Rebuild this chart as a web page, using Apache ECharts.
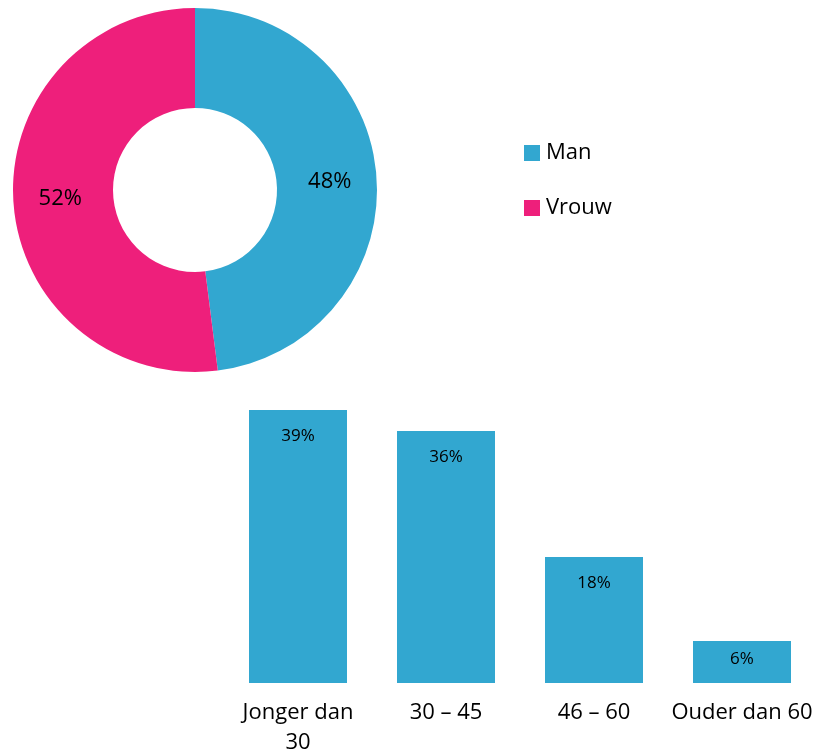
<!DOCTYPE html>
<html>
<head>
<meta charset="utf-8">
<script src="https://cdn.jsdelivr.net/npm/echarts@6/dist/echarts.min.js"></script>
<style>html,body{margin:0;padding:0;background:#fff}#c{width:819px;height:755px}</style>
</head>
<body>
<div id="c"></div>
<script>
var genderNames = ['Man', 'Vrouw'];
var genderValues = [48, 52];
var ageCategories = ['Jonger dan\n30', '30 – 45', '46 – 60', 'Ouder dan 60'];
var ageValues = [39, 36, 18, 6];

var BLUE = '#32A7D0', PINK = '#EE1F7B';
var FONT = 'Open Sans';
var chart = echarts.init(document.getElementById('c'));
chart.setOption({
  animation: false,
  textStyle: { fontFamily: FONT },
  legend: {
    orient: 'vertical', left: 519, top: 137,
    itemWidth: 16, itemHeight: 16, itemGap: 33,
    icon: 'rect',
    data: genderNames,
    textStyle: { fontSize: 22, color: '#000', fontFamily: FONT, padding: [0, 0, 0, 1] }
  },
  grid: { left: 224, right: 3, top: 410, bottom: 72, outerBoundsMode: 'none', containLabel: false },
  xAxis: {
    type: 'category', data: ageCategories,
    axisLine: { show: false }, axisTick: { show: false },
    axisLabel: { fontSize: 22, color: '#000', margin: 15, lineHeight: 30, fontFamily: FONT, interval: 0 }
  },
  yAxis: { type: 'value', min: 0, max: 39, show: false, splitLine: { show: false } },
  series: [
    {
      type: 'pie', center: [195, 190], radius: [82, 182],
      startAngle: 90, clockwise: true,
      label: { position: 'inside', formatter: '{c}%', fontSize: 22, color: '#000', fontFamily: FONT },
      labelLine: { show: false },
      emphasis: { disabled: true },
      data: genderNames.map(function (n, i) {
        return { name: n, value: genderValues[i], itemStyle: { color: i === 0 ? BLUE : PINK } };
      })
    },
    {
      type: 'bar', barWidth: 98,
      data: ageValues.map(function (v) {
        return v < 10 ? { value: v, label: { distance: 10 } } : v;
      }),
      itemStyle: { color: BLUE },
      label: { show: true, position: 'insideTop', distance: 18, formatter: '{c}%', fontSize: 17, color: '#000', fontFamily: FONT }
    }
  ]
});
</script>
</body>
</html>
